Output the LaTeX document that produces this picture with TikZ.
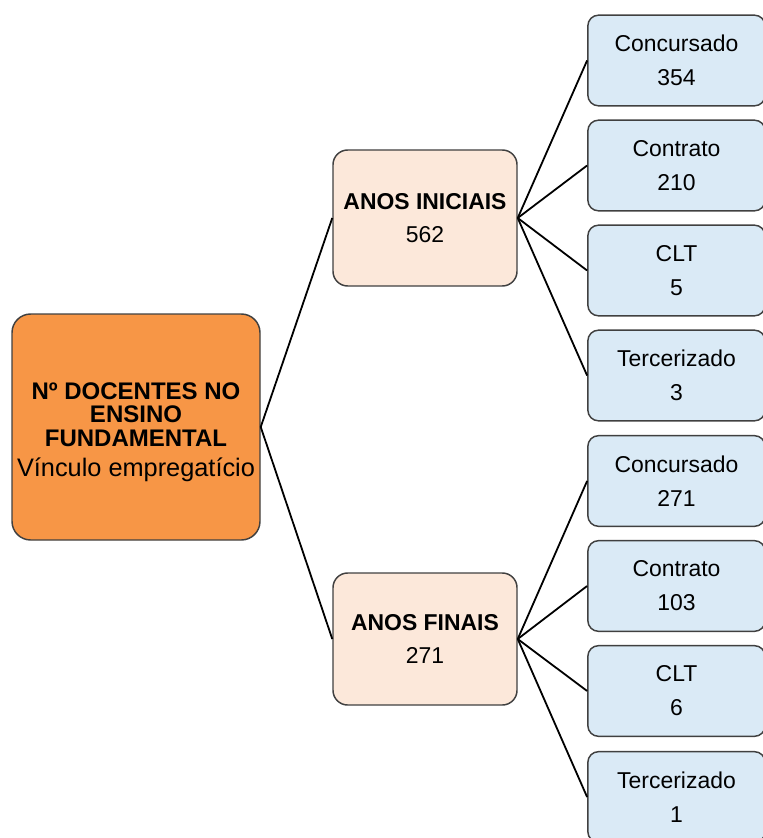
\documentclass[tikz,border=0pt]{standalone}
\usepackage{fontspec}
\setmainfont{Liberation Sans}
\definecolor{raiz}{HTML}{F79646}
\definecolor{meio}{HTML}{FCE8DA}
\definecolor{folha}{HTML}{DAEAF6}
\definecolor{borda}{HTML}{404040}
\tikzset{
  raizbox/.style={draw=borda, line width=1.1pt, fill=raiz, rounded corners=14pt, minimum width=186pt, minimum height=169.5pt, align=center, inner sep=0pt, font=\fontsize{18}{17.6}\selectfont},
  meiobox/.style={draw=borda, line width=1.1pt, fill=meio, rounded corners=11pt, minimum width=138pt, align=center, inner sep=0pt, font=\fontsize{17.2}{25}\selectfont},
  folhabox/.style={draw=borda, line width=1.1pt, fill=folha, rounded corners=8pt, minimum width=133pt, minimum height=68pt, align=center, inner sep=0pt, font=\fontsize{17.2}{25.5}\selectfont},
  liga/.style={line width=1.35pt, black}
}
\begin{document}
\begin{tikzpicture}[x=0.75pt,y=-0.75pt]
        \useasboundingbox (0,0) rectangle (763,838);
        \clip (0,0) rectangle (763,838);
        \coordinate (R) at (136,427);
        \coordinate (I) at (425,218);
        \coordinate (F) at (425,639);
        \node[raizbox] (raiz) at (R) {\rule{0pt}{20.5pt}\textbf{Nº DOCENTES NO}\\\textbf{ENSINO}\\\textbf{FUNDAMENTAL}\\[5.5pt]{\fontsize{19}{17.6}\selectfont Vínculo empregatício}};
        \node[meiobox, minimum height=102pt] (ini) at (I) {\textbf{ANOS INICIAIS}\\562};
        \node[meiobox, minimum height=99pt] (fin) at (F) {\textbf{ANOS FINAIS}\\271};
        \node[folhabox] (i1) at (676.5,60.5) {Concursado\\354};
        \node[folhabox] (i2) at (676.5,165.5) {Contrato\\210};
        \node[folhabox] (i3) at (676.5,270.5) {CLT\\5};
        \node[folhabox] (i4) at (676.5,375.5) {Tercerizado\\3};
        \node[folhabox] (f1) at (676.5,481) {Concursado\\271};
        \node[folhabox] (f2) at (676.5,586) {Contrato\\103};
        \node[folhabox] (f3) at (676.5,691) {CLT\\6};
        \node[folhabox] (f4) at (676.5,797) {Tercerizado\\1};
        \draw[liga] (raiz.east) -- (ini.west);
        \draw[liga] (raiz.east) -- (fin.west);
        \draw[liga] (ini.east) -- (i1.west);
        \draw[liga] (ini.east) -- (i2.west);
        \draw[liga] (ini.east) -- (i3.west);
        \draw[liga] (ini.east) -- (i4.west);
        \draw[liga] (fin.east) -- (f1.west);
        \draw[liga] (fin.east) -- (f2.west);
        \draw[liga] (fin.east) -- (f3.west);
        \draw[liga] (fin.east) -- (f4.west);
    \end{tikzpicture}
\end{document}
